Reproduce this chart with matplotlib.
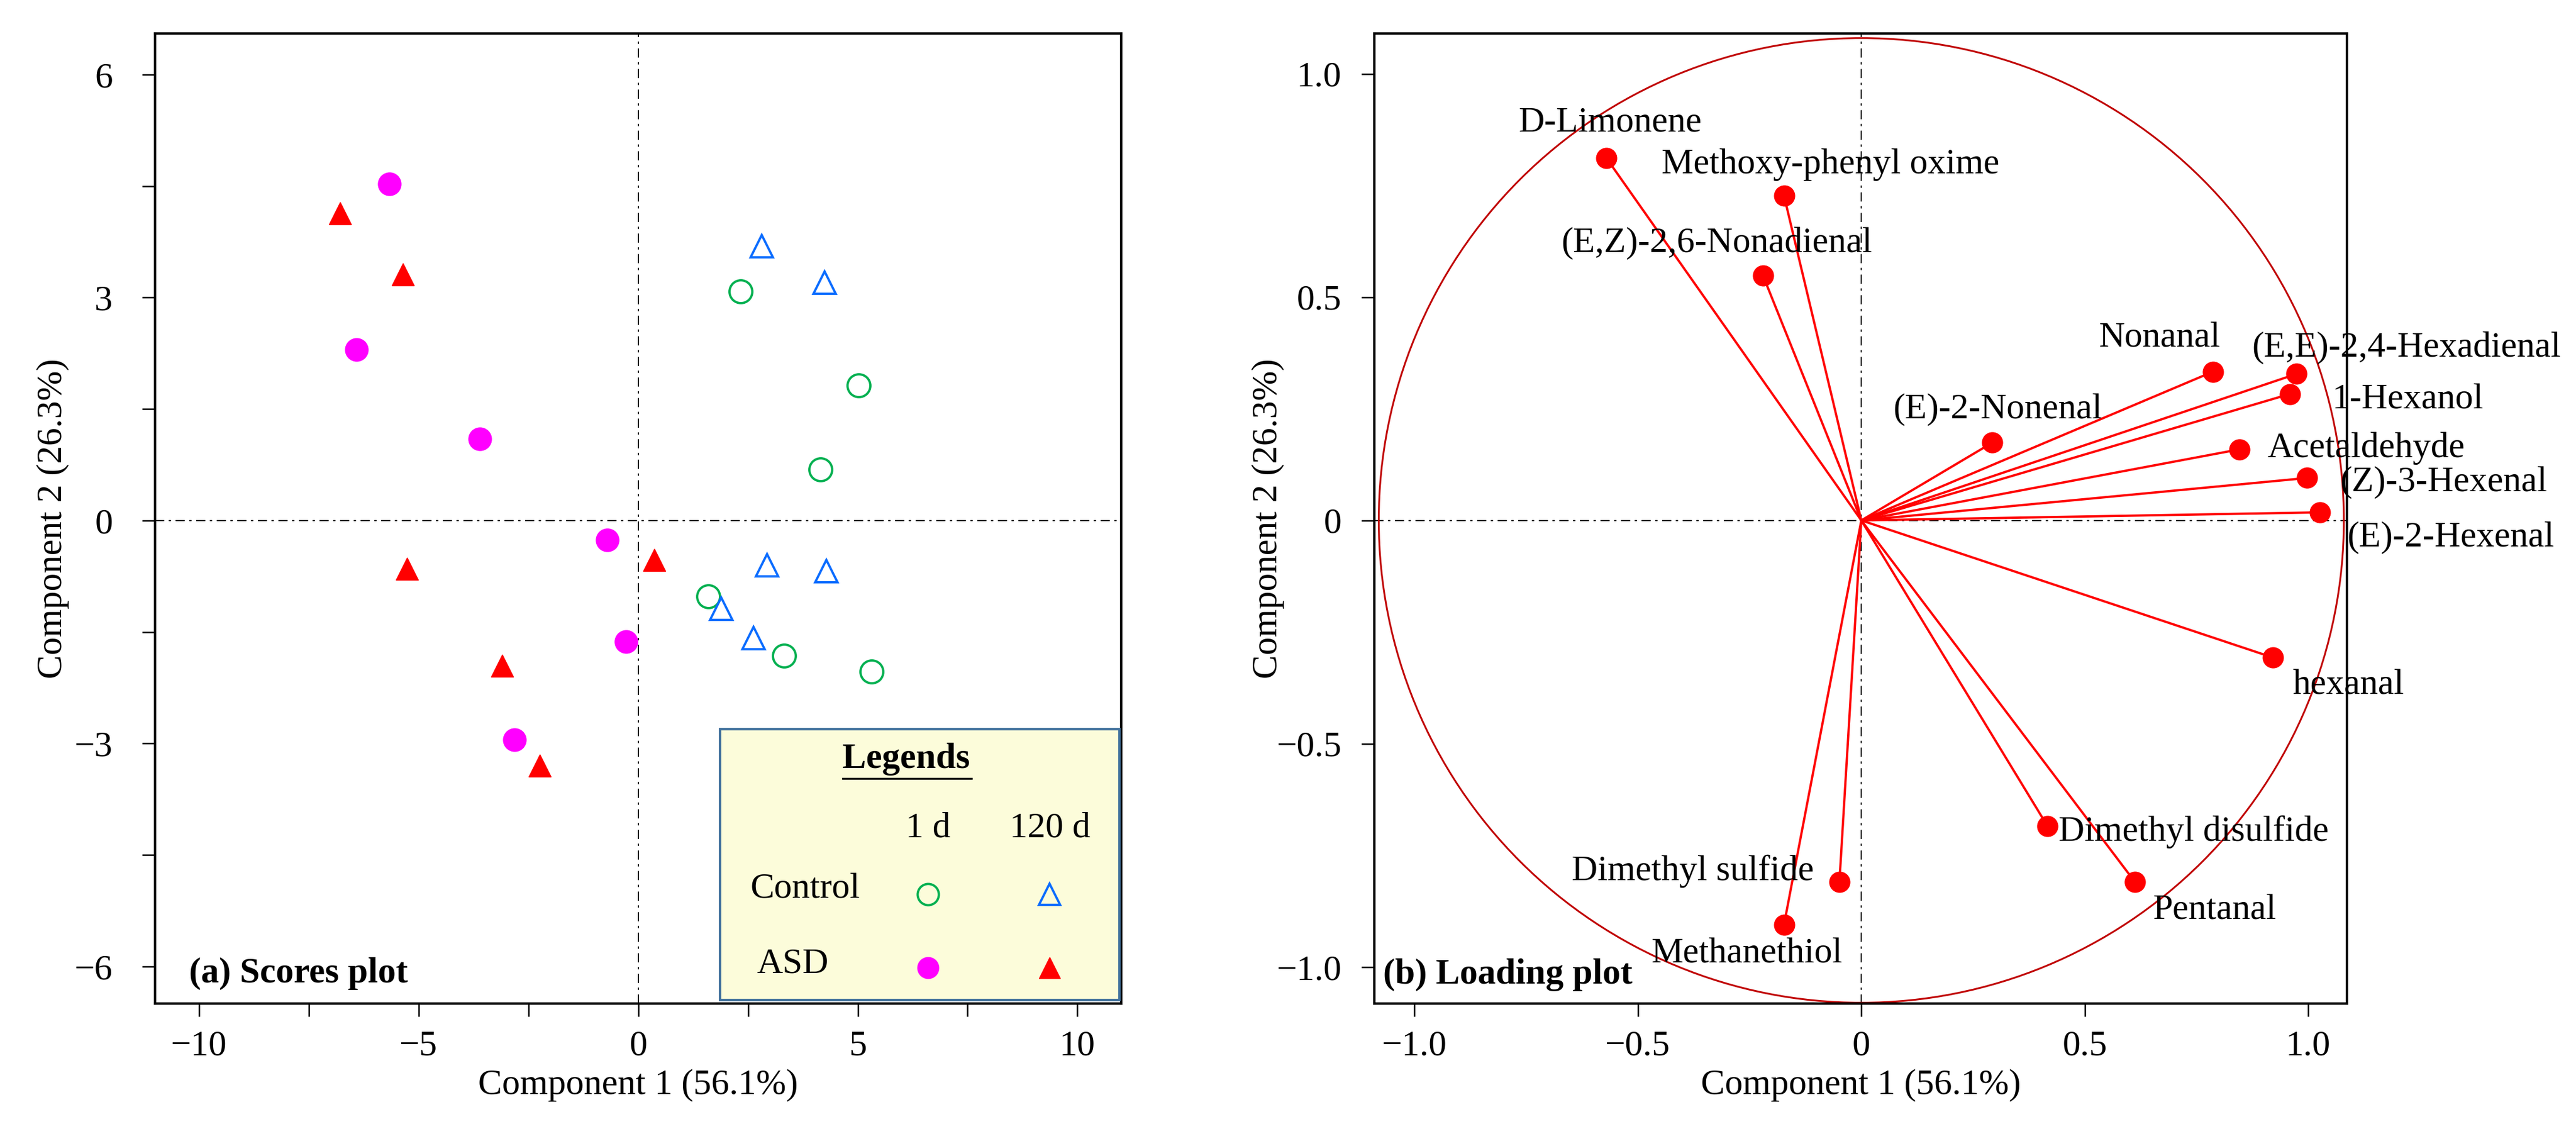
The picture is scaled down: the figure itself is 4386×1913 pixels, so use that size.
#!/usr/bin/env python3
"""PCA scores and loading plots for the control / ASD volatiles."""

import matplotlib

matplotlib.use("Agg")
import matplotlib.pyplot as plt
import matplotlib.ticker as mticker
from matplotlib.patches import Ellipse, Rectangle

# ---- scores (component 1, component 2) ----
CONTROL_1D_X = [2.33, 5.02, 4.15, 1.60, 3.32, 5.32]
CONTROL_1D_Y = [3.08, 1.82, 0.69, -1.02, -1.82, -2.03]
CONTROL_120D_X = [2.81, 4.25, 2.94, 4.29, 1.89, 2.62]
CONTROL_120D_Y = [3.69, 3.20, -0.60, -0.68, -1.19, -1.58]
ASD_1D_X = [-5.66, -6.41, -3.61, -0.70, -0.27, -2.81]
ASD_1D_Y = [4.53, 2.30, 1.10, -0.26, -1.63, -2.95]
ASD_120D_X = [-6.79, -5.36, -5.26, 0.36, -3.10, -2.24]
ASD_120D_Y = [4.13, 3.31, -0.65, -0.53, -1.95, -3.30]

# ---- loadings ----
VOLATILES = [
    "D-Limonene", "Methoxy-phenyl oxime", "(E,Z)-2,6-Nonadienal",
    "(E)-2-Nonenal", "Nonanal", "(E,E)-2,4-Hexadienal", "1-Hexanol",
    "Acetaldehyde", "(Z)-3-Hexenal", "(E)-2-Hexenal", "hexanal",
    "Dimethyl disulfide", "Pentanal", "Dimethyl sulfide", "Methanethiol",
]
LOAD_X = [-0.571, -0.173, -0.220, 0.293, 0.787, 0.974, 0.959,
          0.846, 0.998, 1.026, 0.921, 0.417, 0.612, -0.049, -0.173]
LOAD_Y = [0.812, 0.727, 0.548, 0.174, 0.333, 0.328, 0.283,
          0.159, 0.095, 0.018, -0.307, -0.685, -0.809, -0.809, -0.905]

XLABEL = "Component 1 (56.1%)"
YLABEL = "Component 2 (26.3%)"

# label anchors (left edge, vertical centre) in data units
LABEL_POS = {
    "D-Limonene": (-0.768, 0.891),
    "Methoxy-phenyl oxime": (-0.447, 0.797),
    "(E,Z)-2,6-Nonadienal": (-0.671, 0.621),
    "(E)-2-Nonenal": (0.071, 0.248),
    "Nonanal": (0.531, 0.408),
    "(E,E)-2,4-Hexadienal": (0.874, 0.386),
    "1-Hexanol": (1.053, 0.270),
    "Acetaldehyde": (0.909, 0.162),
    "(Z)-3-Hexenal": (1.071, 0.085),
    "(E)-2-Hexenal": (1.087, -0.039),
    "hexanal": (0.965, -0.370),
    "Dimethyl disulfide": (0.441, -0.698),
    "Pentanal": (0.652, -0.873),
    "Dimethyl sulfide": (-0.648, -0.785),
    "Methanethiol": (-0.470, -0.971),
}

FS = 44
GREEN = "#00B050"
BLUE = "#0A6CFF"
MAGENTA = "#FF00FF"
RED = "#FF0000"
DASHDOT = (0, (8, 4, 2, 4))


def style_axes(ax, ypad):
    for spine in ax.spines.values():
        spine.set_linewidth(3.0)
        spine.set_color("black")
    ax.tick_params(axis="both", which="both", direction="out", length=16,
                   width=1.8, labelsize=FS)
    ax.tick_params(axis="x", which="both", pad=16)
    ax.tick_params(axis="y", which="both", pad=ypad)
    ax.axhline(0, color="black", lw=1.4, ls=DASHDOT, zorder=1)
    ax.axvline(0, color="black", lw=1.4, ls=DASHDOT, zorder=1)


def draw_scores(ax):
    mk = dict(linestyle="none", markersize=28, zorder=3)
    ax.plot(CONTROL_1D_X, CONTROL_1D_Y, marker="o", markerfacecolor="none",
            markeredgecolor=GREEN, markeredgewidth=2.8, **mk)
    ax.plot(CONTROL_120D_X, CONTROL_120D_Y, marker="^", markerfacecolor="none",
            markeredgecolor=BLUE, markeredgewidth=2.8, **mk)
    ax.plot(ASD_1D_X, ASD_1D_Y, marker="o", color=MAGENTA, **mk)
    ax.plot(ASD_120D_X, ASD_120D_Y, marker="^", color=RED, **mk)

    ax.set_xlim(-11, 11)
    ax.set_ylim(-6.5, 6.55)
    ax.xaxis.set_major_locator(mticker.MultipleLocator(5))
    ax.xaxis.set_minor_locator(mticker.MultipleLocator(2.5))
    ax.yaxis.set_major_locator(mticker.MultipleLocator(3))
    ax.yaxis.set_minor_locator(mticker.MultipleLocator(1.5))
    style_axes(ax, ypad=36)

    # legend table
    ax.add_patch(Rectangle((0.585, 0.004), 0.413, 0.279, transform=ax.transAxes,
                           facecolor="#FCFCDA", edgecolor="#41719C", lw=3, zorder=4))
    ax.text(0.777, 0.252, "Legends", transform=ax.transAxes, fontsize=FS,
            fontweight="bold", ha="center", va="center", zorder=5)
    ax.plot([0.712, 0.845], [0.232, 0.232], transform=ax.transAxes,
            color="black", lw=2.4, zorder=5)
    ax.text(0.80, 0.181, "1 d", transform=ax.transAxes, fontsize=FS,
            ha="center", va="center", zorder=5)
    ax.text(0.926, 0.181, "120 d", transform=ax.transAxes, fontsize=FS,
            ha="center", va="center", zorder=5)
    ax.text(0.673, 0.118, "Control", transform=ax.transAxes, fontsize=FS,
            ha="center", va="center", zorder=5)
    ax.text(0.660, 0.041, "ASD", transform=ax.transAxes, fontsize=FS,
            ha="center", va="center", zorder=5)
    lk = dict(transform=ax.transAxes, linestyle="none", markersize=26, zorder=5)
    ax.plot([0.80], [0.113], marker="o", markerfacecolor="none",
            markeredgecolor=GREEN, markeredgewidth=2.8, **lk)
    ax.plot([0.926], [0.113], marker="^", markerfacecolor="none",
            markeredgecolor=BLUE, markeredgewidth=2.8, **lk)
    ax.plot([0.80], [0.037], marker="o", color=MAGENTA, **lk)
    ax.plot([0.926], [0.037], marker="^", color=RED, **lk)

    ax.text(0.035, 0.031, "(a) Scores plot", transform=ax.transAxes,
            fontsize=FS, fontweight="bold", ha="left", va="center", zorder=5)
    ax.set_xlabel(XLABEL, fontsize=FS, labelpad=8)
    ax.set_ylabel(YLABEL, fontsize=FS, labelpad=6)


def draw_loadings(ax):
    ax.add_patch(Ellipse((0, 0), 2.16, 2.16, facecolor="none",
                         edgecolor="#C00000", lw=2.2, zorder=2))
    for name, x, y in zip(VOLATILES, LOAD_X, LOAD_Y):
        ax.plot([0, x], [0, y], color=RED, lw=2.8, zorder=3)
        lx, ly = LABEL_POS[name]
        ax.text(lx, ly, name, fontsize=FS, ha="left", va="center",
                clip_on=False, zorder=5)
    ax.plot(LOAD_X, LOAD_Y, linestyle="none", marker="o", markersize=25,
            color=RED, zorder=4)

    ax.set_xlim(-1.09, 1.087)
    ax.set_ylim(-1.082, 1.09)
    ax.xaxis.set_major_locator(mticker.MultipleLocator(0.5))
    ax.yaxis.set_major_locator(mticker.MultipleLocator(0.5))
    fmt = mticker.FuncFormatter(
        lambda v, _: "0" if abs(v) < 1e-9 else f"{v:.1f}".replace("-", "\u2212"))
    ax.xaxis.set_major_formatter(fmt)
    ax.yaxis.set_major_formatter(fmt)
    style_axes(ax, ypad=24)

    ax.text(0.009, 0.03, "(b) Loading plot", transform=ax.transAxes,
            fontsize=FS, fontweight="bold", ha="left", va="center", zorder=5)
    ax.set_xlabel(XLABEL, fontsize=FS, labelpad=8)
    ax.set_ylabel(YLABEL, fontsize=FS, labelpad=-10)


def main():
    plt.rcParams.update({
        "font.family": "Liberation Serif",
        "axes.unicode_minus": True,
    })
    fig = plt.figure(figsize=(43.86, 19.13), dpi=100)
    ax_a = fig.add_axes([0.0602, 0.1071, 0.3751, 0.863])
    ax_b = fig.add_axes([0.5335, 0.1071, 0.3776, 0.863])
    draw_scores(ax_a)
    draw_loadings(ax_b)
    fig.savefig("out.png", dpi=100, facecolor="white")
    plt.close(fig)


if __name__ == "__main__":
    main()
